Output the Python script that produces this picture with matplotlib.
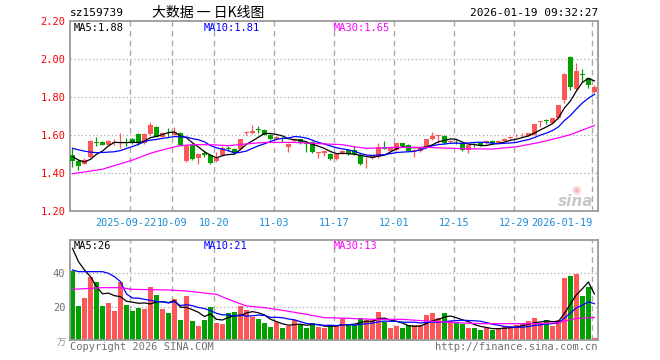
import matplotlib
matplotlib.use('Agg')
import matplotlib.pyplot as plt
import numpy as np
import pandas as pd

plt.rcParams['font.family'] = ['DejaVu Sans Mono', 'Noto Sans CJK SC']

# daily K-line data, 2025-09-08 .. 2026-01-19 (88 trading days)
opens = [1.495, 1.463, 1.450, 1.486, 1.562, 1.565, 1.550, 1.558, 1.557, 1.562,
         1.577, 1.604, 1.560, 1.604, 1.644, 1.590, 1.612, 1.600, 1.610, 1.463,
         1.547, 1.477, 1.507, 1.495, 1.463, 1.495, 1.532, 1.525, 1.525, 1.609,
         1.610, 1.632, 1.626, 1.600, 1.577, 1.585, 1.538, 1.570, 1.577, 1.558,
         1.565, 1.505, 1.507, 1.500, 1.474, 1.504, 1.520, 1.520, 1.495, 1.466,
         1.477, 1.483, 1.532, 1.517, 1.520, 1.556, 1.547, 1.518, 1.517, 1.530,
         1.578, 1.595, 1.595, 1.562, 1.570, 1.551, 1.521, 1.549, 1.560, 1.556,
         1.570, 1.560, 1.570, 1.586, 1.593, 1.598, 1.596, 1.600, 1.668, 1.676,
         1.665, 1.688, 1.784, 2.009, 1.840, 1.918, 1.898, 1.825]
highs = [1.530, 1.470, 1.480, 1.572, 1.590, 1.568, 1.575, 1.580, 1.610, 1.583,
         1.585, 1.610, 1.610, 1.670, 1.650, 1.615, 1.635, 1.644, 1.615, 1.550,
         1.550, 1.505, 1.515, 1.500, 1.512, 1.540, 1.542, 1.530, 1.580, 1.620,
         1.653, 1.647, 1.630, 1.605, 1.595, 1.590, 1.556, 1.580, 1.580, 1.570,
         1.570, 1.512, 1.520, 1.505, 1.505, 1.520, 1.525, 1.542, 1.500, 1.486,
         1.495, 1.560, 1.570, 1.535, 1.560, 1.560, 1.552, 1.525, 1.535, 1.580,
         1.616, 1.600, 1.600, 1.575, 1.580, 1.556, 1.550, 1.556, 1.565, 1.572,
         1.575, 1.572, 1.584, 1.596, 1.603, 1.610, 1.612, 1.660, 1.672, 1.682,
         1.692, 1.760, 1.925, 2.016, 1.977, 1.950, 1.905, 1.865]
lows = [1.430, 1.415, 1.445, 1.480, 1.540, 1.545, 1.548, 1.550, 1.530, 1.540,
        1.555, 1.550, 1.555, 1.600, 1.588, 1.588, 1.590, 1.598, 1.545, 1.460,
        1.470, 1.450, 1.485, 1.450, 1.460, 1.490, 1.517, 1.500, 1.520, 1.600,
        1.605, 1.610, 1.598, 1.575, 1.572, 1.565, 1.512, 1.565, 1.553, 1.512,
        1.505, 1.477, 1.489, 1.470, 1.470, 1.500, 1.497, 1.497, 1.440, 1.425,
        1.472, 1.480, 1.525, 1.512, 1.515, 1.540, 1.515, 1.486, 1.510, 1.525,
        1.575, 1.560, 1.553, 1.558, 1.555, 1.515, 1.507, 1.538, 1.540, 1.552,
        1.552, 1.556, 1.566, 1.580, 1.588, 1.592, 1.594, 1.598, 1.640, 1.660,
        1.662, 1.685, 1.770, 1.835, 1.835, 1.880, 1.850, 1.820]
closes = [1.462, 1.435, 1.467, 1.570, 1.558, 1.548, 1.570, 1.562, 1.562, 1.558,
          1.560, 1.556, 1.604, 1.653, 1.590, 1.610, 1.608, 1.617, 1.547, 1.547,
          1.474, 1.500, 1.493, 1.455, 1.477, 1.533, 1.528, 1.504, 1.578, 1.614,
          1.620, 1.628, 1.600, 1.577, 1.590, 1.581, 1.553, 1.577, 1.556, 1.554,
          1.512, 1.508, 1.517, 1.474, 1.500, 1.517, 1.500, 1.502, 1.447, 1.470,
          1.490, 1.535, 1.528, 1.530, 1.556, 1.542, 1.517, 1.522, 1.530, 1.578,
          1.595, 1.598, 1.556, 1.570, 1.566, 1.521, 1.547, 1.545, 1.542, 1.568,
          1.556, 1.568, 1.580, 1.589, 1.596, 1.601, 1.609, 1.658, 1.670, 1.674,
          1.688, 1.758, 1.921, 1.854, 1.937, 1.916, 1.863, 1.854]
# volume, 万手
volumes = [41.6, 20.4, 25.2, 37.8, 34.8, 20.4, 22.4, 17.6, 34.8, 21.0,
           17.6, 19.2, 18.6, 31.8, 27.0, 18.6, 16.2, 24.6, 12.0, 26.4,
           11.6, 8.4, 12.0, 19.8, 10.2, 9.6, 16.2, 16.8, 20.4, 18.0,
           13.8, 12.6, 10.2, 7.8, 10.8, 7.2, 8.4, 12.0, 9.0, 7.5,
           10.0, 8.0, 7.0, 8.8, 8.2, 13.0, 8.8, 8.8, 13.5, 12.2,
           12.2, 17.0, 11.0, 7.5, 8.2, 7.5, 8.8, 8.8, 8.8, 15.3,
           16.0, 13.0, 16.0, 11.6, 10.2, 9.8, 7.5, 7.0, 6.3, 7.0,
           6.3, 7.3, 8.2, 8.2, 8.8, 10.4, 11.2, 13.5, 10.0, 12.2,
           8.2, 11.8, 37.3, 38.6, 39.8, 26.3, 32.0, 1.4]

# moving-average values before the window is full
ma5_head = [1.486, 1.468, 1.458, 1.472]
ma10_head = [1.530, 1.522, 1.515, 1.510, 1.507, 1.508, 1.510, 1.512, 1.518]
ma30_idx = [0, 5, 10, 13, 16, 18, 20, 23, 26, 29, 32, 37, 42, 45, 47, 49, 54,
            59, 65, 70, 74, 78, 81, 83, 85, 87]
ma30_val = [1.396, 1.420, 1.468, 1.504, 1.530, 1.544, 1.549, 1.549, 1.544,
            1.553, 1.561, 1.561, 1.553, 1.549, 1.538, 1.530, 1.535, 1.535,
            1.528, 1.526, 1.538, 1.562, 1.585, 1.602, 1.626, 1.650]
vma5_head = [55, 47, 42, 38]
vma10_head = [42, 41, 41, 41, 41, 41, 40, 38, 35]
vma30_idx = [0, 5, 8, 10, 16, 19, 24, 26, 29, 32, 35, 39, 42, 46, 50, 55, 59,
             64, 68, 73, 77, 81, 84, 87]
vma30_val = [30.4, 31.4, 31.4, 30.4, 30.0, 29.4, 27.4, 24.4, 20.4, 19.4, 17.8,
             15.4, 13.4, 13.0, 12.4, 12.4, 11.4, 10.4, 9.8, 9.8, 9.8, 10.4,
             13.0, 13.5]

tick_idx = [10, 17, 24, 34, 44, 54, 64, 74, 87]
tick_labels = ['2025-09-22', '10-09', '10-20', '11-03', '11-17', '12-01',
               '12-15', '12-29', '2026-01-19']

df = pd.DataFrame({'o': opens, 'h': highs, 'l': lows, 'c': closes, 'v': volumes})
n = len(df)
x = np.arange(n)


def ma(s, w, head):
    m = s.rolling(w).mean().values
    m[:len(head)] = head
    return m


ma5 = ma(df['c'], 5, ma5_head)
ma10 = ma(df['c'], 10, ma10_head)
vma5 = ma(df['v'], 5, vma5_head)
vma10 = ma(df['v'], 10, vma10_head)

RED = '#ff5757'
GREEN = '#00a000'
up = df['c'] >= df['o']
cols = np.where(up, RED, GREEN)

W, H = 660, 360
fig = plt.figure(figsize=(6.6, 3.6), dpi=100)
ax = fig.add_axes([69.5 / W, 1 - 211 / H, 528.5 / W, 190 / H])
axv = fig.add_axes([69.5 / W, 1 - 340 / H, 528.5 / W, 100 / H])

for a in (ax, axv):
    a.set_xlim(-0.5, 87.6)
    for s in a.spines.values():
        s.set_color('#9a9a9a')
        s.set_linewidth(1.3)
    for t in tick_idx:
        a.axvline(t - 0.4, color='#aaaaaa', lw=1, ls=(0, (4, 3)), zorder=0)
    a.set_xticks([])
    a.tick_params(axis='y', length=0, pad=3, labelsize=7.5)

# price panel
ax.set_ylim(1.2, 2.2)
for yv in [1.4, 1.6, 1.8, 2.0]:
    ax.axhline(yv, color='#aaaaaa', lw=0.9, ls=(0, (1, 2)), zorder=0)
ax.set_yticks([1.2, 1.4, 1.6, 1.8, 2.0, 2.2])
ax.set_yticklabels(['1.20', '1.40', '1.60', '1.80', '2.00', '2.20'], color='#ff0000')

ax.vlines(x, df['l'], df['h'], colors=cols, lw=0.9, zorder=2)
body_lo = np.minimum(df['o'], df['c'])
body_h = np.maximum(np.abs(df['c'] - df['o']), 0.004)
ax.bar(x, body_h, bottom=body_lo, width=0.82, color=cols, lw=0, zorder=3)

ax.plot(x, ma5, color='black', lw=0.9, zorder=4)
ax.plot(x, ma10, color='#0000ff', lw=0.9, zorder=4)
ax.plot(ma30_idx, ma30_val, color='#ff00ff', lw=0.9, zorder=4)

# volume panel
axv.set_ylim(0, 60)
for yv in [20, 40]:
    axv.axhline(yv, color='#aaaaaa', lw=0.9, ls=(0, (1, 2)), zorder=0)
axv.set_yticks([20, 40])
axv.set_yticklabels(['20', '40'], color='#707070')
axv.bar(x, df['v'], width=0.82, color=cols, lw=0, zorder=2)
axv.plot(x, vma5, color='black', lw=0.9, zorder=4)
axv.plot(x, vma10, color='#0000ff', lw=0.9, zorder=4)
axv.plot(vma30_idx, vma30_val, color='#ff00ff', lw=0.9, zorder=4)

# date labels under price panel; first one pushed left so it abuts the next
for k, (t, lab) in enumerate(zip(tick_idx, tick_labels)):
    xt, ha = t - 0.4, 'center'
    if k == 0:
        xt, ha = tick_idx[1] - 0.4 - 2.6, 'right'
    elif k == len(tick_idx) - 1:
        ha = 'right'
    ax.text(xt, -0.035, lab, transform=ax.get_xaxis_transform(),
            ha=ha, va='top', fontsize=7.3, color='#1a8cd8')


def ftext(px, py, s, **kw):
    fig.text(px / W, 1 - py / H, s, va='center', **kw)


ftext(70, 13, 'sz159739', fontsize=8, color='black')
ftext(208, 13, '大数据 一 日K线图', fontsize=10, color='black', ha='center',
      family=['Noto Sans CJK SC', 'DejaVu Sans'])
ftext(598, 13, '2026-01-19 09:32:27', fontsize=8, color='black', ha='right')

ftext(74, 28, 'MA5:1.88', fontsize=7.5, color='black')
ftext(204, 28, 'MA10:1.81', fontsize=7.5, color='#0000ff')
ftext(334, 28, 'MA30:1.65', fontsize=7.5, color='#ff00ff')
ftext(74, 246, 'MA5:26', fontsize=7.5, color='black')
ftext(204, 246, 'MA10:21', fontsize=7.5, color='#0000ff')
ftext(334, 246, 'MA30:13', fontsize=7.5, color='#ff00ff')

ftext(70, 347, 'Copyright 2026 SINA.COM', fontsize=7.5, color='#707070')
ftext(598, 347, 'http://finance.sina.com.cn', fontsize=7.5, color='#707070', ha='right')
ftext(57, 343, '万', fontsize=6.5, color='#909090',
      family=['Noto Sans CJK SC', 'DejaVu Sans'])

# sina watermark
ftext(576, 201, 'sina', fontsize=11, color='#c8c8c8', ha='center',
      style='italic', weight='bold', family='DejaVu Sans')
ftext(576, 190, '◉', fontsize=8, color='#f2b8b8', ha='center', family='DejaVu Sans')

fig.savefig('out.png', dpi=100, facecolor='white')
